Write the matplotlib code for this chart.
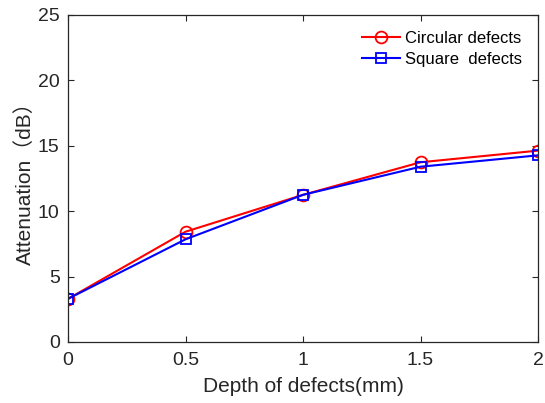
import matplotlib
matplotlib.use("Agg")
import matplotlib.pyplot as plt

plt.rcParams['font.family'] = ['Liberation Sans', 'Noto Sans CJK SC', 'DejaVu Sans']

depth = [0, 0.5, 1, 1.5, 2]
circular = [3.3, 8.43, 11.25, 13.74, 14.63]
square = [3.3, 7.85, 11.25, 13.4, 14.27]

fig = plt.figure(figsize=(5.45, 4.03), dpi=100)
ax = fig.add_axes([0.1248, 0.1514, 0.8624, 0.8114])

ax.plot(depth, circular, color='red', marker='o', markersize=8.5, markerfacecolor='none',
        markeredgewidth=1.3, linewidth=1.5, label='Circular defects')
ax.plot(depth, square, color='blue', marker='s', markersize=7.5, markerfacecolor='none',
        markeredgewidth=1.3, linewidth=1.5, label='Square  defects')

ax.set_xlim(0, 2)
ax.set_ylim(0, 25)
ax.set_xticks([0, 0.5, 1, 1.5, 2])
ax.set_xticklabels(['0', '0.5', '1', '1.5', '2'])
ax.set_yticks([0, 5, 10, 15, 20, 25])
ax.tick_params(direction='in', top=True, right=True, labelsize=14, length=4,
               colors='#262626', width=0.8)
ax.tick_params(axis='x', pad=7)
ax.tick_params(axis='y', pad=6)
for s in ax.spines.values():
    s.set_color('#262626')
    s.set_linewidth(0.9)

ax.set_xlabel('Depth of defects(mm)', fontsize=15, color='#262626', labelpad=6)
ax.set_ylabel('Attenuation（dB）', fontsize=15, color='#262626', labelpad=2)

ax.legend(loc='upper right', bbox_to_anchor=(0.966, 0.952), frameon=False, fontsize=12,
          handlelength=2.3, borderaxespad=0, borderpad=0, labelspacing=0.35,
          handletextpad=0.3)

fig.savefig('out.png', dpi=100)
